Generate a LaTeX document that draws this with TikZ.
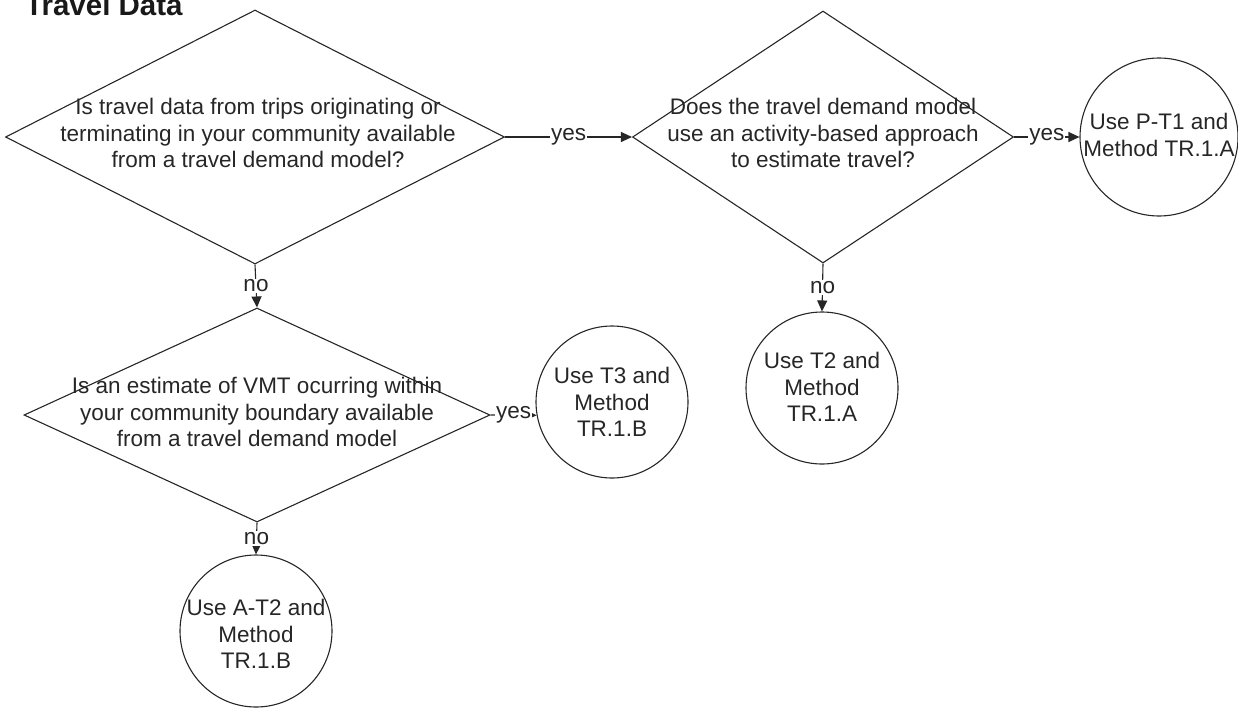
\documentclass[tikz,border=0pt]{standalone}
\usepackage{fontspec}
\setmainfont{Liberation Sans}
\usetikzlibrary{shapes.geometric,arrows.meta}
\begin{document}
\begin{tikzpicture}[x=1pt,y=-1pt,
  shapeline/.style={draw=black!85,line width=1.1pt},
  decision/.style={shapeline,diamond,inner sep=0pt},
  endcircle/.style={shapeline,circle,inner sep=0pt,minimum size=#1},
  shapetext/.style={align=center,font=\fontsize{22.5}{26.5}\selectfont,text=black!85,inner sep=0pt},
  conn/.style={draw=black!85,line width=1.1pt,-{Triangle[length=11pt,width=10pt]}},
  edgelabel/.style={fill=white,font=\fontsize{22.5}{26.5}\selectfont,text=black!85,inner sep=1pt},
]
\useasboundingbox (0,0) rectangle (1238,707);

\node[anchor=base west,font=\bfseries\fontsize{29.5}{32}\selectfont,text=black!90,inner sep=0pt] (title) at (25,15) {Travel Data};

% decisions
\node[decision,minimum width=499pt,minimum height=254pt] (d1) at (255,137) {};
\node[shapetext] (d1t) at (258,133) {Is travel data from trips originating or\\terminating in your community available\\from a travel demand model?};

\node[decision,minimum width=381pt,minimum height=252pt] (d2) at (823,137) {};
\node[shapetext] (d2t) at (823,133) {Does the travel demand model\\use an activity-based approach\\to estimate travel?};

\node[decision,minimum width=466pt,minimum height=214pt] (d3) at (257,415) {};
\node[shapetext] (d3t) at (257,412) {Is an estimate of VMT ocurring within\\your community boundary available\\from a travel demand model};

% end circles
\node[endcircle=158pt] (c1) at (1159,137) {};
\node[shapetext] (c1t) at (1159,135) {Use P-T1 and\\Method TR.1.A};

\node[endcircle=152pt] (c2) at (822,388) {};
\node[shapetext] (c2t) at (822,387) {Use T2 and\\Method\\TR.1.A};

\node[endcircle=152pt] (c3) at (612,402) {};
\node[shapetext] (c3t) at (612,402) {Use T3 and\\Method\\TR.1.B};

\node[endcircle=152pt] (c4) at (256,631) {};
\node[shapetext] (c4t) at (256,634) {Use A-T2 and\\Method\\TR.1.B};

% connectors
\draw[conn] (d1.east) -- node[edgelabel] {yes} (d2.west);
\draw[conn] (d2.east) -- node[edgelabel] {yes} (c1.west);
\draw[conn] (d1.south) -- node[edgelabel] {no} (d3.north);
\draw[conn] (d2.south) -- node[edgelabel] {no} (c2.north);
\draw[conn] (d3.east) -- node[edgelabel] {yes} (c3.190);
\draw[conn] (d3.south) -- node[edgelabel] {no} (c4.north);
\end{tikzpicture}
\end{document}
